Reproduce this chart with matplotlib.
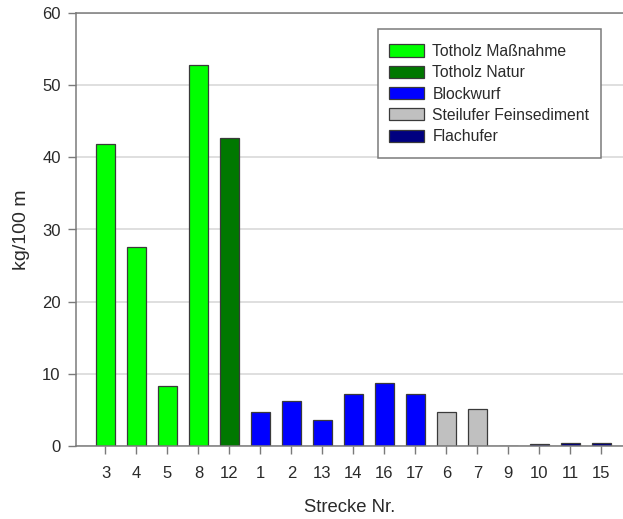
import matplotlib
matplotlib.use("Agg")
import matplotlib.pyplot as plt
from matplotlib.patches import Patch, Rectangle

plt.rcParams['font.family'] = ['Liberation Sans', 'DejaVu Sans']

# Strecken (reaches) in plotting order
strecken = ["3", "4", "5", "8", "12", "1", "2", "13", "14", "16", "17",
            "6", "7", "9", "10", "11", "15"]
# Mass per 100 m of reach
werte = [41.9, 27.6, 8.3, 52.8, 42.6, 4.7, 6.3, 3.6, 7.3, 8.7, 7.2,
         4.7, 5.1, 0.0, 0.35, 0.5, 0.5]
# Reach type for each bar
typ = ["TM", "TM", "TM", "TM", "TN", "BW", "BW", "BW", "BW", "BW", "BW",
       "SF", "SF", "FU", "FU", "FU", "FU"]

typ_labels = {"TM": "Totholz Maßnahme", "TN": "Totholz Natur",
              "BW": "Blockwurf", "SF": "Steilufer Feinsediment",
              "FU": "Flachufer"}
typ_farben = {"TM": "#00FF00", "TN": "#007800", "BW": "#0000FF",
              "SF": "#C0C0C0", "FU": "#000080"}

W, H = 623, 519
fig = plt.figure(figsize=(W / 100, H / 100), dpi=100)
ax = fig.add_axes([76 / W, 1 - 446.3 / H, 1 - 76 / W, (446.3 - 12.7) / H])

x = list(range(len(strecken)))
ax.bar(x, werte, width=0.6, color=[typ_farben[t] for t in typ],
       edgecolor="#3a3a3a", linewidth=0.9, zorder=3)

ax.set_xlim(-0.95, 16.7)
ax.set_ylim(0, 60)
ax.set_yticks(range(0, 61, 10))
ax.set_xticks(x)
ax.set_xticklabels(strecken)

ax.yaxis.grid(True, color="#dcdcdc", linewidth=1.3, zorder=0)
ax.set_axisbelow(True)

ax.spines["right"].set_visible(False)
for side in ("left", "top", "bottom"):
    ax.spines[side].set_color("#7a7a7a")
    ax.spines[side].set_linewidth(1.1)
ax.spines["bottom"].set_zorder(4)

ax.tick_params(axis="y", direction="out", length=6, width=1, color="#7a7a7a",
               labelsize=12, labelcolor="#2a2a2a", pad=5)
ax.tick_params(axis="x", direction="out", length=6, width=1, color="#7a7a7a",
               labelsize=12, labelcolor="#2a2a2a", pad=8)

ax.set_ylabel("kg/100 m", fontsize=14, color="#2a2a2a")
ax.set_xlabel("Strecke Nr.", fontsize=13.3, color="#2a2a2a")
ax.yaxis.set_label_coords((30 - 76) / (W - 76), 0.5)
ax.xaxis.set_label_coords(0.5, (446.3 - 499) / (446.3 - 12.7))

# Legend box drawn as a separate frame, entries placed inside it
box_l, box_t, box_r, box_b = 378, 29.3, 601, 158
fig.patches.append(Rectangle((box_l / W, 1 - box_b / H),
                             (box_r - box_l) / W, (box_b - box_t) / H,
                             transform=fig.transFigure, facecolor="white",
                             edgecolor="#7a7a7a", linewidth=1.1, zorder=5))

handles = [Patch(facecolor=typ_farben[k], edgecolor="#3a3a3a", linewidth=0.9,
                 label=typ_labels[k]) for k in ["TM", "TN", "BW", "SF", "FU"]]
leg = fig.legend(handles=handles, loc="upper left",
                 bbox_to_anchor=(389 / W, 1 - 44 / H), borderaxespad=0,
                 fontsize=11.35, frameon=False,
                 handlelength=2.2, handleheight=0.8, handletextpad=0.55,
                 labelspacing=0.4, borderpad=0, labelcolor="#2a2a2a")
leg.set_zorder(6)

fig.savefig("out.png", dpi=100)
